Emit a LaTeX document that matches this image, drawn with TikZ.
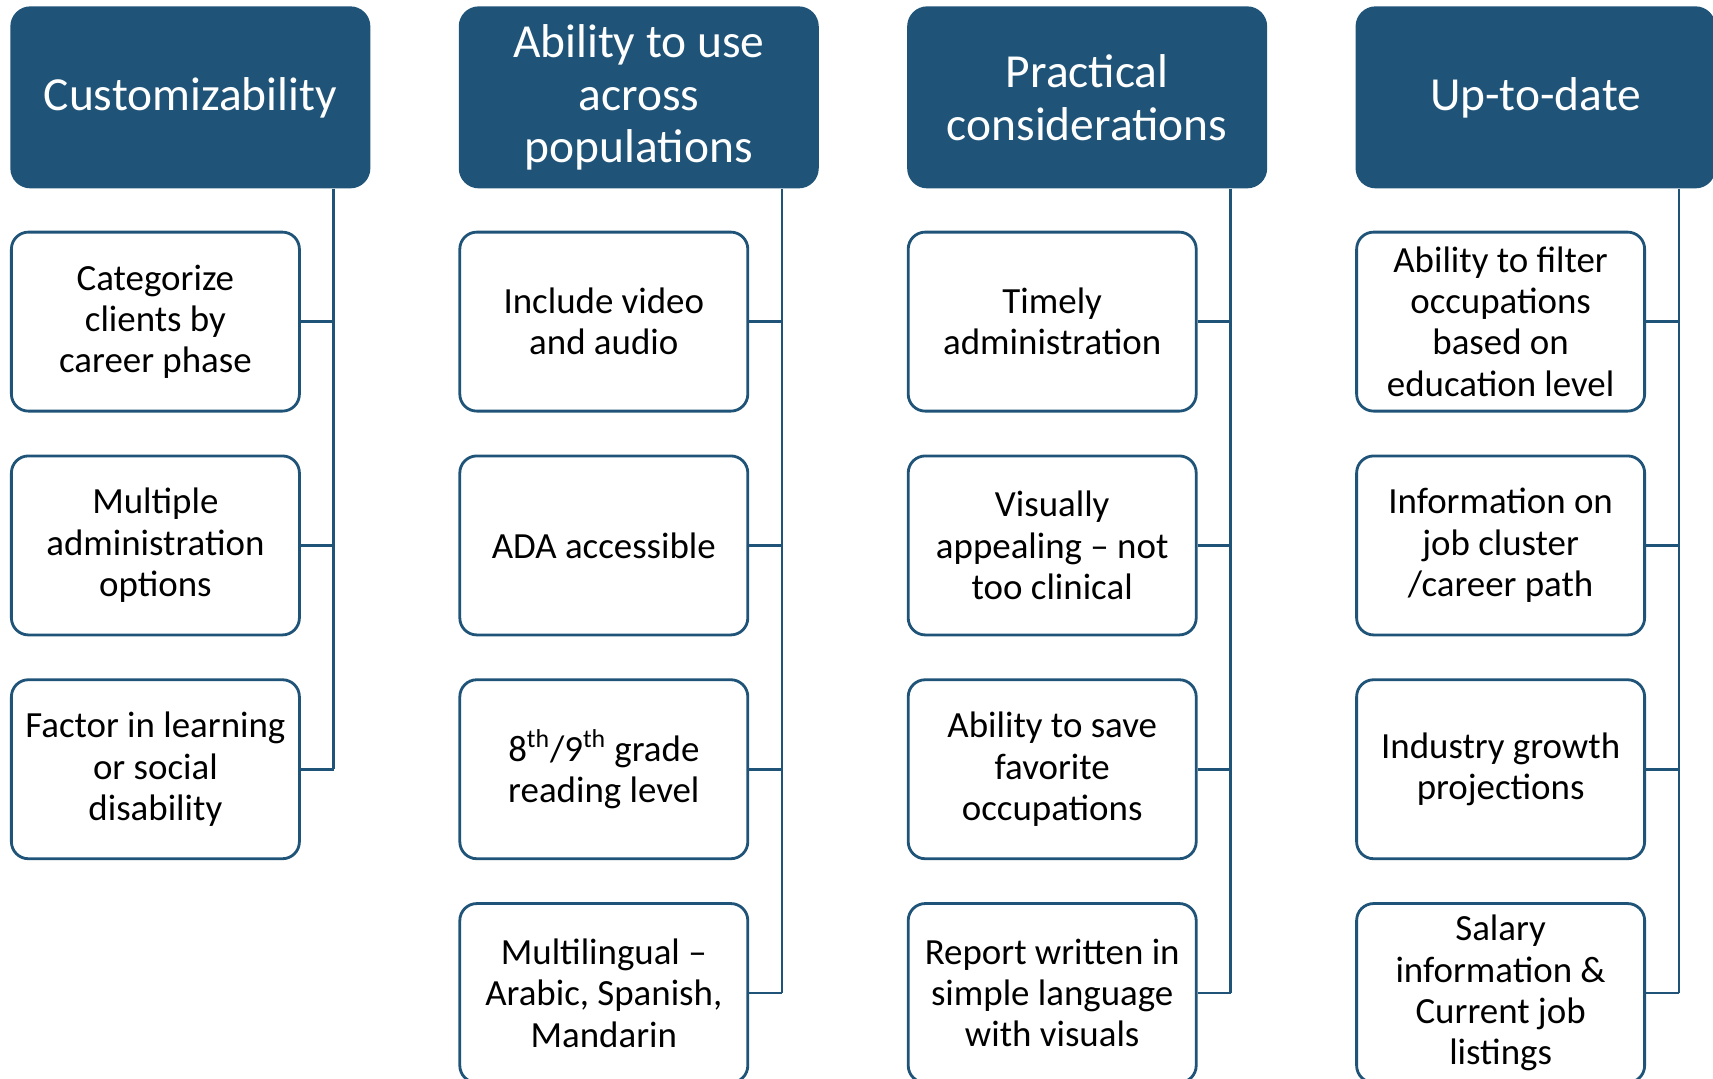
\documentclass[tikz,border=0pt]{standalone}
\usepackage{fontspec}
\setmainfont{Carlito}
\usepackage{tikz}
\usetikzlibrary{positioning, calc}
\definecolor{navy}{RGB}{31,84,120}
\tikzstyle{head} = [rectangle, rounded corners=0.4cm, fill=navy, text=white, minimum width=7.2cm, minimum height=3.64cm, inner sep=0pt, align=center, font=\fontsize{27}{30}\selectfont]
\tikzstyle{item} = [rectangle, rounded corners=0.34cm, draw=navy, line width=1.6pt, fill=white, minimum width=5.76cm, minimum height=3.58cm, inner sep=0pt, align=center, font=\fontsize{21}{23.5}\selectfont]
\tikzstyle{link} = [draw=navy, line width=1.5pt]

\begin{document}
\begin{tikzpicture}
            \useasboundingbox (0,0) rectangle (34.26,-21.56);

            \node[head, anchor=north west] (head-1) at (0.2,-0.12) {Customizability};
            \node[head, right=1.754cm of head-1] (head-2) {Ability to use\\across\\populations};
            \node[head, right=1.754cm of head-2] (head-3) {Practical\\considerations};
            \node[head, right=1.754cm of head-3] (head-4) {Up-to-date};

            \node[item, below=0.84cm of head-1.south west, anchor=north west] (box-1-1) {Categorize\\clients by\\career phase};
            \node[item, below=0.84cm of box-1-1] (box-1-2) {Multiple\\administration\\options};
            \node[item, below=0.84cm of box-1-2] (box-1-3) {Factor in learning\\or social\\disability};

            \node[item, below=0.84cm of head-2.south west, anchor=north west] (box-2-1) {Include video\\and audio};
            \node[item, below=0.84cm of box-2-1] (box-2-2) {ADA accessible};
            \node[item, below=0.84cm of box-2-2] (box-2-3) {8\textsuperscript{th}/9\textsuperscript{th} grade\\reading level};
            \node[item, below=0.84cm of box-2-3] (box-2-4) {Multilingual --\\Arabic, Spanish,\\Mandarin};

            \node[item, below=0.84cm of head-3.south west, anchor=north west] (box-3-1) {Timely\\administration};
            \node[item, below=0.84cm of box-3-1] (box-3-2) {Visually\\appealing -- not\\too clinical};
            \node[item, below=0.84cm of box-3-2] (box-3-3) {Ability to save\\favorite\\occupations};
            \node[item, below=0.84cm of box-3-3] (box-3-4) {Report written in\\simple language\\with visuals};

            \node[item, below=0.84cm of head-4.south west, anchor=north west] (box-4-1) {Ability to filter\\occupations\\based on\\education level};
            \node[item, below=0.84cm of box-4-1] (box-4-2) {Information on\\job cluster\\/career path};
            \node[item, below=0.84cm of box-4-2] (box-4-3) {Industry growth\\projections};
            \node[item, below=0.84cm of box-4-3] (box-4-4) {Salary\\information \&\\Current job\\listings};

            % vertical bus lines
            \coordinate (bus-1) at ($(head-1.south east)+(-0.74,0)$);
            \coordinate (bus-2) at ($(head-2.south east)+(-0.74,0)$);
            \coordinate (bus-3) at ($(head-3.south east)+(-0.74,0)$);
            \coordinate (bus-4) at ($(head-4.south east)+(-0.74,0)$);
            \draw[link] (bus-1) -- (bus-1 |- box-1-3.east);
            \draw[link] (bus-2) -- (bus-2 |- box-2-4.east);
            \draw[link] (bus-3) -- (bus-3 |- box-3-4.east);
            \draw[link] (bus-4) -- (bus-4 |- box-4-4.east);

            \draw[link] (box-1-1.east) -- (bus-1 |- box-1-1.east);
            \draw[link] (box-1-2.east) -- (bus-1 |- box-1-2.east);
            \draw[link] (box-1-3.east) -- (bus-1 |- box-1-3.east);

            \draw[link] (box-2-1.east) -- (bus-2 |- box-2-1.east);
            \draw[link] (box-2-2.east) -- (bus-2 |- box-2-2.east);
            \draw[link] (box-2-3.east) -- (bus-2 |- box-2-3.east);
            \draw[link] (box-2-4.east) -- (bus-2 |- box-2-4.east);

            \draw[link] (box-3-1.east) -- (bus-3 |- box-3-1.east);
            \draw[link] (box-3-2.east) -- (bus-3 |- box-3-2.east);
            \draw[link] (box-3-3.east) -- (bus-3 |- box-3-3.east);
            \draw[link] (box-3-4.east) -- (bus-3 |- box-3-4.east);

            \draw[link] (box-4-1.east) -- (bus-4 |- box-4-1.east);
            \draw[link] (box-4-2.east) -- (bus-4 |- box-4-2.east);
            \draw[link] (box-4-3.east) -- (bus-4 |- box-4-3.east);
            \draw[link] (box-4-4.east) -- (bus-4 |- box-4-4.east);

        \end{tikzpicture}
\end{document}
